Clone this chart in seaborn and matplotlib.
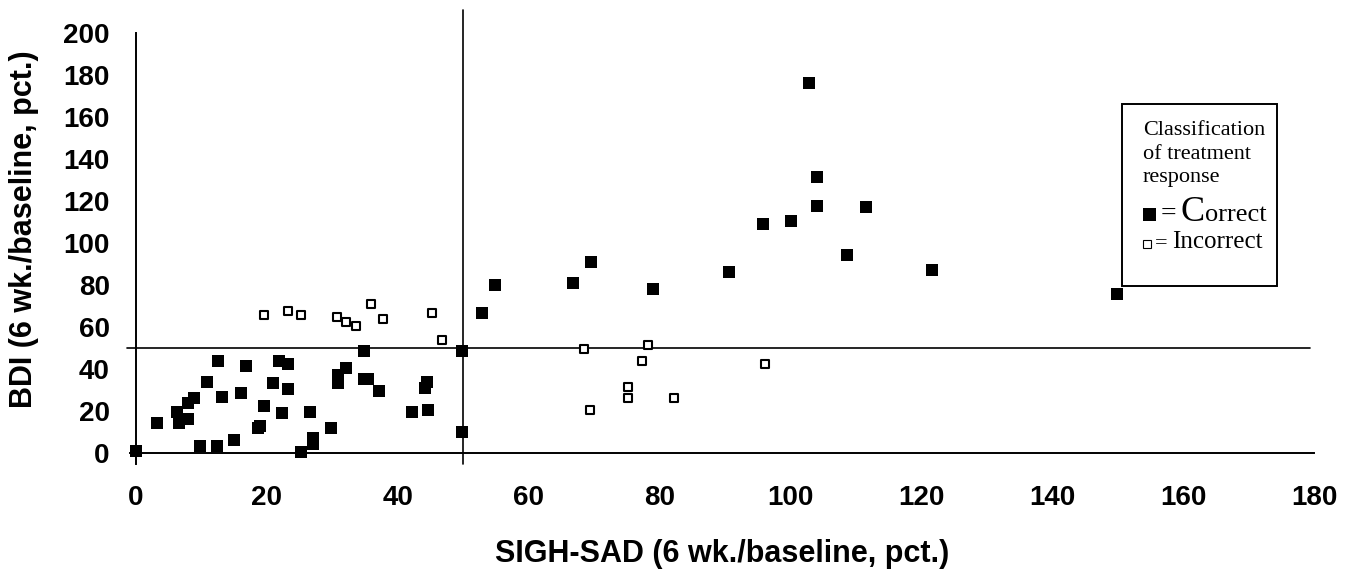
import matplotlib
matplotlib.use("Agg")
import matplotlib.pyplot as plt
from matplotlib.patches import Rectangle
import pandas as pd
import seaborn as sns

# SIGH-SAD vs BDI after 6 weeks, percent of baseline
correct_sigh = [0, 3.2, 6.3, 6.5, 7.9, 8.8, 8.0, 9.7, 10.8, 12.5, 12.3, 13.1, 14.9,
                16.0, 16.8, 18.7, 19.0, 19.5, 20.9, 21.9, 23.2, 23.2, 22.3, 25.2,
                27.0, 27.0, 26.6, 29.8, 30.9, 30.9, 32.1, 34.8, 34.8, 35.5, 37.1,
                42.2, 44.4, 44.2, 44.6, 49.8, 49.8,
                52.8, 54.9, 66.7, 69.5, 79.0, 90.6, 102.9, 104.1, 104.1, 111.6,
                95.8, 100.1, 108.7, 121.7, 149.9]
correct_bdi = [1, 14.6, 19.8, 14.6, 23.8, 26.2, 16.2, 3.5, 34.1, 44.1, 3.5, 27.0, 6.3,
               28.9, 41.6, 11.9, 13.0, 22.5, 33.3, 44.1, 42.5, 30.5, 19.0, 0.8,
               7.5, 4.5, 19.8, 11.9, 37.3, 33.3, 40.5, 48.7, 35.2, 35.2, 29.8,
               19.8, 34.1, 31.0, 20.6, 48.7, 10.0,
               66.7, 80.1, 81.3, 91.1, 78.4, 86.5, 176.5, 131.4, 117.9, 117.1,
               109.0, 110.8, 94.6, 87.3, 75.7]
incorrect_sigh = [19.5, 23.2, 25.2, 30.7, 32.1, 33.6, 35.9, 37.7, 45.3, 46.8,
                  68.4, 78.2, 77.3, 75.1, 75.1, 82.2, 69.3, 96.1]
incorrect_bdi = [65.9, 67.8, 65.9, 65.1, 62.4, 60.6, 71.1, 64.0, 66.7, 54.0,
                 49.5, 51.6, 44.1, 31.7, 26.2, 26.2, 20.6, 42.4]

x_ticks = list(range(0, 181, 20))
y_ticks = list(range(0, 201, 20))
cutoff = 50  # response threshold on both scales

df = pd.DataFrame({
    "sigh": correct_sigh + incorrect_sigh,
    "bdi": correct_bdi + incorrect_bdi,
    "cls": ["Correct"] * len(correct_sigh) + ["Incorrect"] * len(incorrect_sigh),
})

sns.set_theme(style="white")
plt.rcParams["font.family"] = ["Liberation Sans", "DejaVu Sans"]
plt.rcParams["text.color"] = "black"
plt.rcParams["axes.labelcolor"] = "black"

W, H = 1358, 577
fig = plt.figure(figsize=(W / 100, H / 100), dpi=100)
ax = fig.add_axes([129.5 / W, 1 - 463.8 / H, 1184.5 / W, 430.5 / H])

sns.scatterplot(data=df[df.cls == "Correct"], x="sigh", y="bdi", marker="s", s=75,
                color="black", edgecolor="none", ax=ax, legend=False, zorder=4)
sns.scatterplot(data=df[df.cls == "Incorrect"], x="sigh", y="bdi", marker="s", s=36,
                color="white", edgecolor="black", linewidth=1.5, ax=ax, legend=False,
                zorder=4)

ax.set_xlim(-1, 180)
ax.set_ylim(-5, 200)
ax.axvline(cutoff, ymin=0, ymax=(211 + 5) / 205, color="black", lw=1.2,
           clip_on=False, zorder=3)
ax.axhline(cutoff, xmin=-0.002, xmax=0.997, color="black", lw=1.2,
           clip_on=False, zorder=3)

for s in ["top", "right"]:
    ax.spines[s].set_visible(False)
ax.spines["left"].set_position(("data", 0))
ax.spines["bottom"].set_position(("data", 0))
for s in ["left", "bottom"]:
    ax.spines[s].set_linewidth(1.4)
    ax.spines[s].set_color("black")

ax.set_xticks(x_ticks)
ax.set_yticks(y_ticks)
ax.tick_params(axis="both", direction="out", length=7, width=1.1, color="black",
               labelsize=20, labelcolor="black")
ax.tick_params(axis="x", pad=16)
ax.tick_params(axis="y", pad=12)
for lab in ax.get_xticklabels() + ax.get_yticklabels():
    lab.set_fontweight("bold")

ax.set_xlabel("SIGH-SAD (6 wk./baseline, pct.)", fontsize=22, fontweight="bold")
ax.set_ylabel("BDI (6 wk./baseline, pct.)", fontsize=22, fontweight="bold")
ax.xaxis.set_label_coords(0.5, -0.175)
ax.yaxis.set_label_coords(-0.076, 0.545)

# ---- legend box (drawn by hand, like the original) ----
fig.add_artist(Rectangle((1122 / W, 1 - 286 / H), 155 / W, 182 / H, fill=False,
                         edgecolor="black", lw=1.4, transform=fig.transFigure))
serif = ["Liberation Serif", "DejaVu Serif"]
for txt, yb in [("Classification", 135), ("of treatment", 159), ("response", 182)]:
    fig.text(1143 / W, 1 - yb / H, txt, fontsize=16, family=serif, va="baseline")

fig.add_artist(Rectangle((1143 / W, 1 - 221 / H), 13 / W, 13 / H, facecolor="black",
                         edgecolor="black", lw=0, transform=fig.transFigure))
fig.add_artist(Rectangle((1143 / W, 1 - 248 / H), 8 / W, 8 / H, facecolor="white",
                         edgecolor="black", lw=0.8, transform=fig.transFigure))

renderer = fig.canvas.get_renderer()


def put_pieces(x0, yb, pieces):
    x = x0
    for txt, size, gap in pieces:
        t = fig.text(x / W, 1 - yb / H, txt, fontsize=size, family=serif, va="baseline")
        x += t.get_window_extent(renderer).width + gap


put_pieces(1161, 221, [("=", 20, 4), ("C", 26, 0), ("orrect", 19, 0)])
put_pieces(1155, 248, [("=", 16, 4), ("Incorrect", 18, 0)])

fig.savefig("out.png", dpi=100)
